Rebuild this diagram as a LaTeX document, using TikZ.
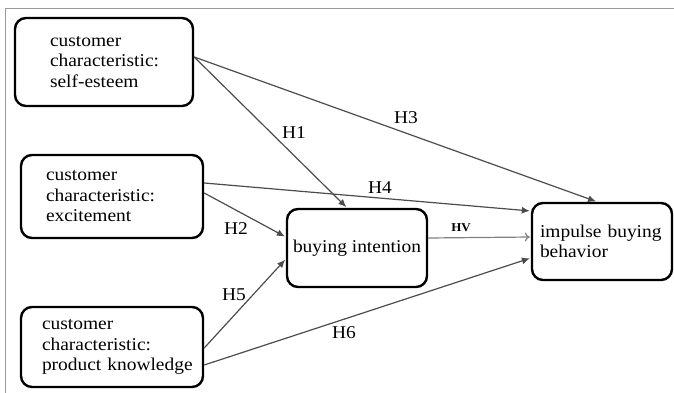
\documentclass[tikz,border=0pt]{standalone}
\usepackage{fontspec}
\setmainfont[FakeStretch=1.08]{Liberation Serif}
\usetikzlibrary{arrows.meta}
\hyphenpenalty=10000
\exhyphenpenalty=10000

\begin{document}
\begin{tikzpicture}[x=1pt,y=-1pt,
	box/.style={draw,line width=2.4pt,rounded corners=11pt,align=left,font=\fontsize{18}{20.5}\selectfont},
	link/.style={draw=black!70,line width=1.2pt,shorten >=1pt,-{Latex[length=8pt,width=7pt]}},
	hyp/.style={font=\fontsize{18}{20}\selectfont}]
	\useasboundingbox (0,0) rectangle (674,393);
	\draw[black!40] (5,393) -- (5,8) -- (674,8);
	
	% customer characteristics
	\node[box,minimum width=178pt,minimum height=88pt,text width=108pt,inner xsep=35pt] (se) at (104,62) {customer\\characteristic:\\self-esteem};
	\node[box,minimum width=182pt,minimum height=83pt,text width=132pt,inner xsep=25pt] (ex) at (112,196.5) {customer\\characteristic:\\excitement};
	\node[box,minimum width=182pt,minimum height=80pt,text width=140pt,inner xsep=21pt] (pk) at (112,347) {customer\\characteristic:\\\mbox{product knowledge}};
	
	\node[box,align=center,minimum width=140pt,minimum height=78pt,inner xsep=4pt] (bi) at (357,248) {buying intention};
	\node[box,minimum width=140pt,minimum height=77pt,text width=124pt,inner xsep=8pt] (ib) at (602,241.5) {impulse buying\\behavior};
	
	\draw[link] ([yshift=5pt]se.east) -- ([xshift=-10pt]bi.north);
	\draw[link] ([yshift=5pt]se.east) -- ([xshift=-5pt]ib.north);
	\draw[link] ([yshift=13.5pt]ex.east) -- ([yshift=30.5pt]ib.west);
	\draw[link] ([yshift=3.5pt]ex.east) -- ([yshift=11pt]bi.west);
	\draw[link] ([yshift=-1pt]pk.east) -- ([yshift=-11pt]bi.west);
	\draw[link] ([yshift=-18pt]pk.east) -- ([yshift=-16.5pt]ib.west);
	\draw[link,draw=black!50,-{To[length=5pt,width=9pt]}] ([yshift=10pt]bi.east) -- ([yshift=4.5pt]ib.west);
	
	\node[hyp] (h1) at (294,133) {H1};
	\node[hyp] (h2) at (236,229) {H2};
	\node[hyp] (h3) at (406,118) {H3};
	\node[hyp] (h4) at (380,188) {H4};
	\node[hyp] (h5) at (234,295) {H5};
	\node[hyp] (h6) at (344,333) {H6};
	\node[font=\fontsize{12}{14}\selectfont\bfseries] (hv) at (461,228) {HV};
\end{tikzpicture}
\end{document}
